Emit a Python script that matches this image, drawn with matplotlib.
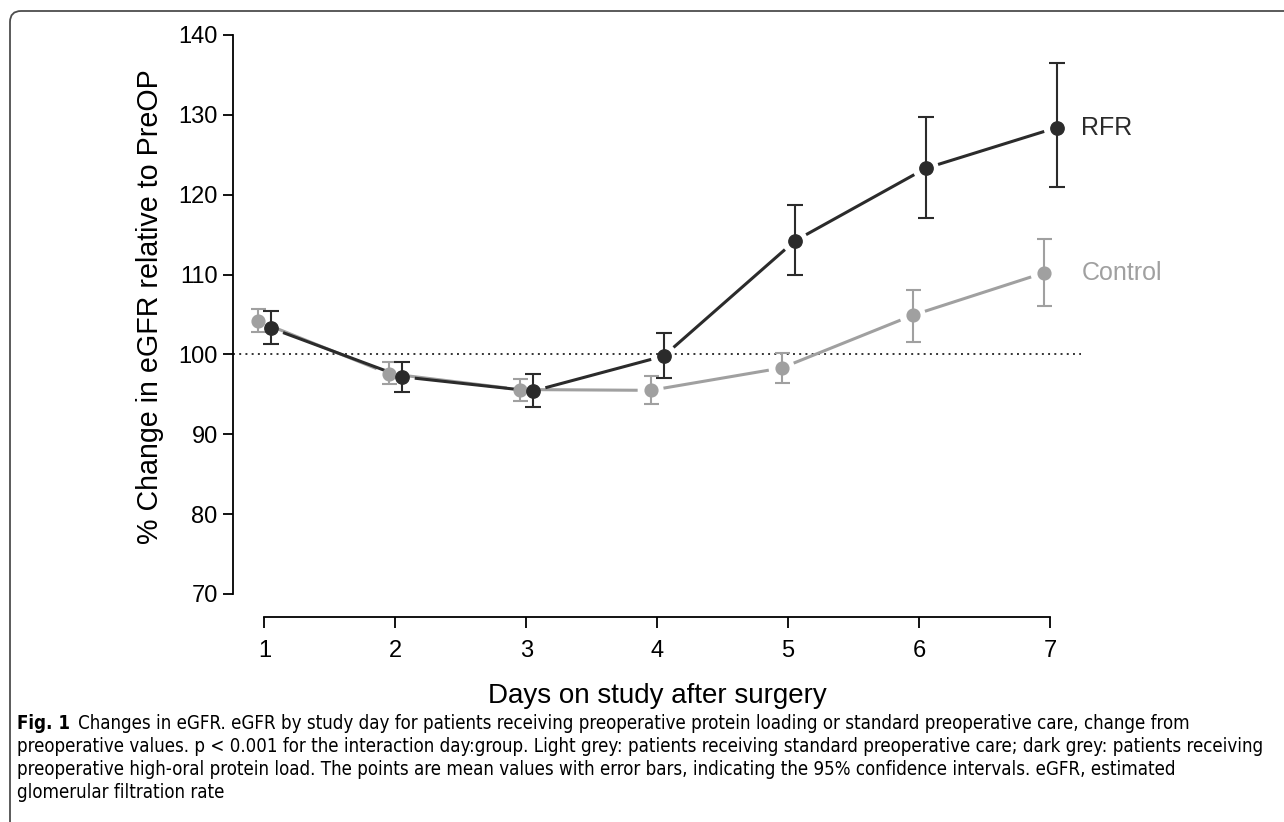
import matplotlib
matplotlib.use("Agg")
import matplotlib.pyplot as plt
import numpy as np
from matplotlib.patches import FancyBboxPatch
from matplotlib.transforms import IdentityTransform

# values
days = [1, 2, 3, 4, 5, 6, 7]
rfr_mean = [103.3, 97.2, 95.4, 99.8, 114.2, 123.3, 128.4]
rfr_lo = [101.3, 95.3, 93.4, 97.0, 109.9, 117.1, 120.9]
rfr_hi = [105.4, 99.1, 97.6, 102.7, 118.7, 129.7, 136.5]
ctrl_mean = [104.2, 97.6, 95.6, 95.5, 98.3, 104.9, 110.2]
ctrl_lo = [102.8, 96.3, 94.2, 93.8, 96.4, 101.6, 106.0]
ctrl_hi = [105.7, 99.0, 96.9, 97.3, 100.2, 108.1, 114.5]
yticks = [70, 80, 90, 100, 110, 120, 130, 140]

dark = "#2b2b2b"
light = "#a0a0a0"

plt.rcParams['font.family'] = ['Liberation Sans', 'DejaVu Sans']

fig = plt.figure(figsize=(12.84, 8.22), dpi=100)
ax = fig.add_axes([0.1817, 0.2498, 0.7381, 0.7174])
ax.set_xlim(0.763, 8.0)
ax.set_ylim(67.16, 141)

for s in ['top', 'right']:
    ax.spines[s].set_visible(False)
ax.spines['left'].set_bounds(70, 140)
ax.spines['bottom'].set_bounds(1, 7)
ax.spines['left'].set_linewidth(1.3)
ax.spines['bottom'].set_linewidth(1.3)
ax.set_yticks(yticks)
ax.set_xticks(days)
ax.tick_params(axis='y', length=7.2, width=1.3, pad=4, labelsize=17)
ax.tick_params(axis='x', length=8, width=1.3, pad=9, labelsize=17)

ax.hlines(100, 0.763, 7.24, colors='#333333', linestyles=(0, (1, 2.2)), linewidth=1.4)


def gapped_line(xs, ys, color, gap=13):
    # R type="b" style: segments stop short of the points
    pts = ax.transData.transform(np.column_stack([xs, ys]))
    inv = ax.transData.inverted()
    for i in range(len(pts) - 1):
        a, b = pts[i], pts[i + 1]
        d = b - a
        u = d / np.hypot(*d)
        seg = inv.transform(np.array([a + u * gap, b - u * gap]))
        ax.plot(seg[:, 0], seg[:, 1], color=color, lw=2.2, solid_capstyle='butt', zorder=2)


xc = np.array(days) - 0.05
xr = np.array(days) + 0.05
cm = np.array(ctrl_mean)
rm = np.array(rfr_mean)

gapped_line(xc, cm, light)
ax.errorbar(xc, cm, yerr=[cm - np.array(ctrl_lo), np.array(ctrl_hi) - cm],
            fmt='o', color=light, ms=9.2, elinewidth=1.5, capsize=5.4, capthick=1.5, zorder=3)

gapped_line(xr, rm, dark)
ax.errorbar(xr, rm, yerr=[rm - np.array(rfr_lo), np.array(rfr_hi) - rm],
            fmt='o', color=dark, ms=9.6, elinewidth=1.5, capsize=6, capthick=1.5, zorder=4)

ax.text(7.24, rfr_mean[-1], "RFR", color=dark, fontsize=18, va='center', ha='left')
ax.text(7.24, ctrl_mean[-1], "Control", color=light, fontsize=18, va='center', ha='left')

fig.text(150 / 1284, 1 - 307 / 822, "% Change in eGFR relative to PreOP", rotation=90,
         ha='center', va='center', fontsize=20.6)
fig.text(657 / 1284, 1 - 696 / 822, "Days on study after surgery", ha='center', va='center', fontsize=20)

# frame around figure + caption
frame = FancyBboxPatch((10, -40), 1310, 851, boxstyle="round,pad=0,rounding_size=11",
                       transform=IdentityTransform(), fill=False, edgecolor='#4d4d4d', lw=1.3)
fig.patches.append(frame)

cap_font = ['DejaVu Sans']
cap_lines = [
    "Changes in eGFR. eGFR by study day for patients receiving preoperative protein loading or standard preoperative care, change from",
    "preoperative values. p < 0.001 for the interaction day:group. Light grey: patients receiving standard preoperative care; dark grey: patients receiving",
    "preoperative high-oral protein load. The points are mean values with error bars, indicating the 95% confidence intervals. eGFR, estimated",
    "glomerular filtration rate",
]
cap_y = [729, 752, 775, 798]

fig.canvas.draw()
r = fig.canvas.get_renderer()
# fit the caption size so the longest line spans the same width as in the figure
probe = fig.text(0, 0, cap_lines[1], family=cap_font, fontstretch='condensed', fontsize=13)
w = probe.get_window_extent(renderer=r).width
probe.remove()
cs = 13 * 1246 / w

t = fig.text(17 / 1284, 1 - cap_y[0] / 822, "Fig. 1", family=cap_font, fontstretch='condensed',
             fontweight='bold', fontsize=cs, va='baseline', ha='left')
ext = t.get_window_extent(renderer=r)
fig.text((ext.x1 + 8) / 1284, 1 - cap_y[0] / 822, cap_lines[0], family=cap_font,
         fontstretch='condensed', fontsize=cs, va='baseline', ha='left')
for line, yy in zip(cap_lines[1:], cap_y[1:]):
    fig.text(17 / 1284, 1 - yy / 822, line, family=cap_font, fontstretch='condensed',
             fontsize=cs, va='baseline', ha='left')

fig.savefig("out.png", dpi=100)
